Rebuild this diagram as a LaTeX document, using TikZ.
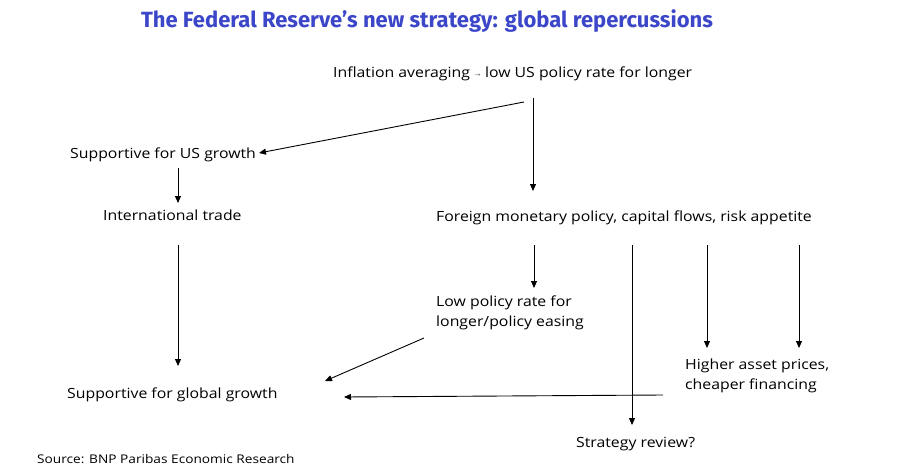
\documentclass[tikz,border=0pt]{standalone}
\usepackage{fontspec}
\setmainfont[FakeStretch=1.13]{Open Sans}
\newfontfamily\srcfont[FakeStretch=1.14]{Open Sans}
\newfontfamily\titlefont{Fira Sans}
\usetikzlibrary{arrows.meta}
\definecolor{titleblue}{RGB}{60,70,200}
\tikzset{
  lbl/.style={anchor=base west, inner sep=0pt, font=\fontsize{14}{20}\selectfont},
  mlbl/.style={anchor=north west, inner sep=0pt, align=left, font=\fontsize{14}{19.5}\selectfont},
  conn/.style={line width=0.9pt, -{Triangle[length=7pt,width=6pt]}}
}
\begin{document}
\begin{tikzpicture}[x=1pt,y=-1pt]
\useasboundingbox (0,0) rectangle (910,474);
\node[anchor=base, inner sep=0pt, font=\titlefont\bfseries\fontsize{22}{26}\selectfont, text=titleblue] (title) at (427,27) {The Federal Reserve’s new strategy: global repercussions};
\node[lbl] (infl) at (333,77) {Inflation averaging \raisebox{0.5pt}{\tiny$\rightarrow$} low US policy rate for longer};
\node[lbl] (usg) at (70,158) {Supportive for US growth};
\node[lbl] (trade) at (103,220) {International trade};
\node[lbl] (foreign) at (436,221) {Foreign monetary policy, capital flows, risk appetite};
\node[mlbl] (low) at (436,296) {Low policy rate for\\longer/policy easing};
\node[mlbl] (asset) at (685,359) {Higher asset prices,\\cheaper financing};
\node[lbl] (glob) at (67,398) {Supportive for global growth};
\node[lbl] (review) at (576,447) {Strategy review?};
\node[anchor=base west, inner sep=0pt, font=\srcfont\fontsize{12}{14}\selectfont] (src) at (37,463) {Source: BNP Paribas Economic Research};

\coordinate (a1s) at (524,102); \coordinate (a1e) at (259,153);
\coordinate (a2s) at (533,98);  \coordinate (a2e) at (533,191);
\coordinate (a3s) at (178,168); \coordinate (a3e) at (178,203);
\coordinate (a4s) at (178,245); \coordinate (a4e) at (178,366);
\coordinate (a5s) at (534,245); \coordinate (a5e) at (534,288);
\coordinate (a6s) at (632,245); \coordinate (a6e) at (632,425);
\coordinate (a7s) at (707,245); \coordinate (a7e) at (707,348);
\coordinate (a8s) at (799,245); \coordinate (a8e) at (799,348);
\coordinate (a9s) at (424,338); \coordinate (a9e) at (325,381);
\coordinate (a10s) at (663,395); \coordinate (a10e) at (344,397);

\draw[conn] (a1s) -- (a1e);
\draw[conn] (a2s) -- (a2e);
\draw[conn] (a3s) -- (a3e);
\draw[conn] (a4s) -- (a4e);
\draw[conn] (a5s) -- (a5e);
\draw[conn] (a6s) -- (a6e);
\draw[conn] (a7s) -- (a7e);
\draw[conn] (a8s) -- (a8e);
\draw[conn] (a9s) -- (a9e);
\draw[conn] (a10s) -- (a10e);
\end{tikzpicture}
\end{document}
